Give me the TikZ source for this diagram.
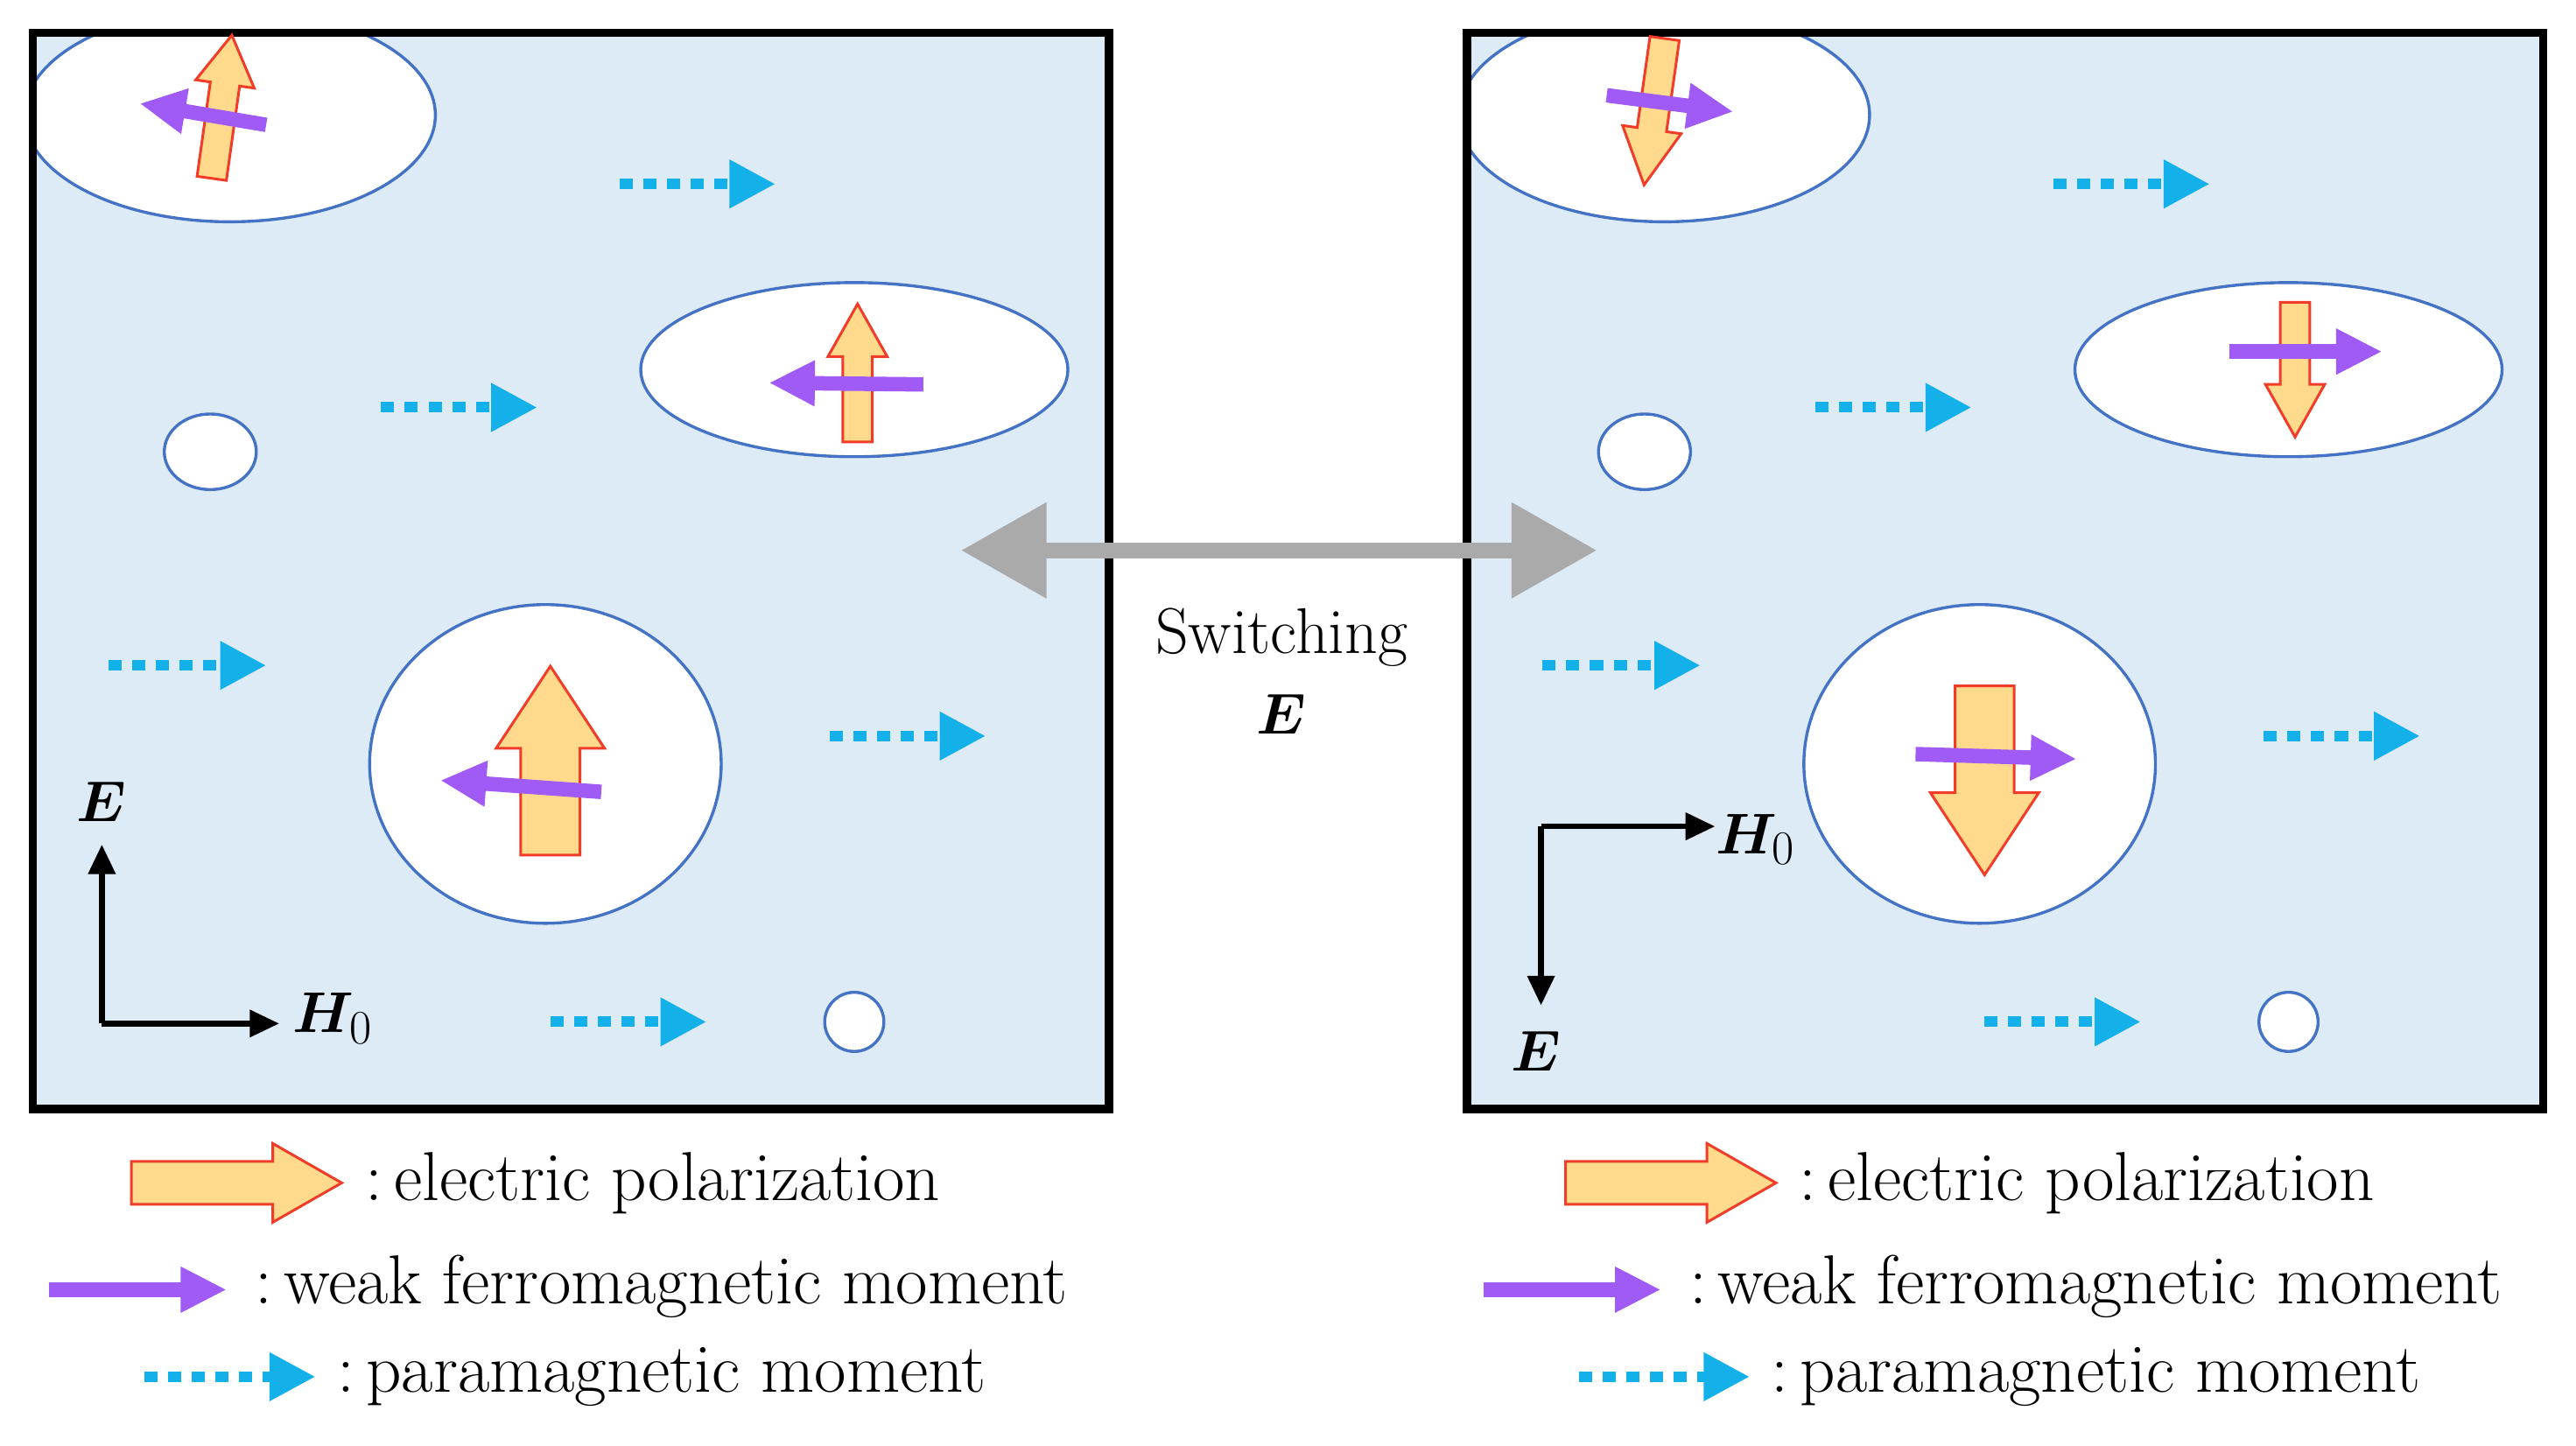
\documentclass[tikz,border=0pt]{standalone}
\usepackage{bm}
\usetikzlibrary{arrows.meta}
\definecolor{bgb}{RGB}{221,235,247}
\definecolor{elb}{RGB}{68,114,196}
\definecolor{polf}{RGB}{255,217,140}
\definecolor{pold}{RGB}{240,60,40}
\definecolor{purp}{RGB}{160,90,245}
\definecolor{cyanA}{RGB}{20,176,234}
\definecolor{grayA}{RGB}{170,170,170}
\tikzset{
 panel/.style={draw=black,line width=1.3mm,fill=bgb},
 dom/.style={draw=elb,line width=0.45mm,fill=white},
 pol/.style={draw=pold,line width=0.4mm,fill=polf,line join=miter},
 fm/.style={draw=purp,line width=2.2mm,-{Triangle[length=7mm,width=6.5mm]}},
 pm/.style={draw=cyanA,line width=1.6mm,dash pattern=on 2mm off 1.6mm,-{Triangle[length=7mm,width=7mm]}},
 ax/.style={draw=black,line width=0.9mm,-{Triangle[length=4.5mm,width=4mm]}},
 lab/.style={font=\fontsize{30}{34}\selectfont,anchor=west,inner sep=0},
 axl/.style={font=\fontsize{29}{32}\selectfont,inner sep=0},
}
\newcommand\fatarr[7]{\begin{scope}[shift={(#1,#2)},rotate=#3]
\draw[pol] (-#4/2,-#5/2) -- (#4/2-#7,-#5/2) -- (#4/2-#7,-#6/2) -- (#4/2,0) -- (#4/2-#7,#6/2) -- (#4/2-#7,#5/2) -- (-#4/2,#5/2) -- cycle;
\end{scope}}
\begin{document}
\begin{tikzpicture}[x=0.25mm,y=-0.25mm]
\useasboundingbox (0,0) rectangle (1568,880);
\foreach \dx/\nm in {0/L,873/R}{
\begin{scope}[xshift=\dx*0.25mm]
\path[fill=bgb] (20,20) rectangle (675,675);
\begin{scope}
\clip (20,20) rectangle (675,675);
\draw[dom] (140,70) ellipse [x radius=125,y radius=65];
\end{scope}
\draw[dom] (520,225) ellipse [x radius=130,y radius=53];
\draw[dom] (128,275) ellipse [x radius=28,y radius=23];
\draw[dom] (332,465) ellipse [x radius=107,y radius=97];
\draw[dom] (520,622) circle [radius=18];
\draw[line width=1.3mm] (20,20) rectangle (675,675);
\coordinate (\nm p1a) at (377,112); \coordinate (\nm p1b) at (472,112);
\coordinate (\nm p2a) at (232,248); \coordinate (\nm p2b) at (327,248);
\coordinate (\nm p3a) at (66,405); \coordinate (\nm p3b) at (162,405);
\coordinate (\nm p4a) at (505,448); \coordinate (\nm p4b) at (600,448);
\coordinate (\nm p5a) at (335,622); \coordinate (\nm p5b) at (430,622);
\foreach \i in {1,...,5}{\draw[pm] (\nm p\i a) -- (\nm p\i b);}
\end{scope}}
\fatarr{135}{65}{82}{88}{18}{36}{30}
\coordinate (a1) at (162,76); \coordinate (b1) at (85,63);
\draw[fm] (a1) -- (b1);
\fatarr{522}{227}{90}{84}{18}{36}{32}
\coordinate (a2) at (562,234); \coordinate (b2) at (468,233);
\draw[fm] (a2) -- (b2);
\fatarr{335}{463}{90}{115}{36}{66}{50}
\coordinate (a3) at (366,482); \coordinate (b3) at (268,475);
\draw[fm] (a3) -- (b3);
\fatarr{1007}{68}{-98}{90}{18}{36}{34}
\coordinate (a4) at (978,58); \coordinate (b4) at (1055,68);
\draw[fm] (a4) -- (b4);
\fatarr{1397}{225}{-90}{82}{18}{36}{32}
\coordinate (a5) at (1357,214); \coordinate (b5) at (1450,214);
\draw[fm] (a5) -- (b5);
\fatarr{1208}{475}{-90}{115}{36}{66}{50}
\coordinate (a6) at (1166,459); \coordinate (b6) at (1264,462);
\draw[fm] (a6) -- (b6);
\coordinate (o1) at (62,623); \coordinate (e1) at (62,514); \coordinate (h1) at (170,623);
\draw[ax] (o1) -- (e1); \draw[ax] (o1) -- (h1);
\node[axl] (E1) at (62,488) {$\bm{E}$};
\node[axl,anchor=west] (H1) at (178,620) {$\bm{H}_0$};
\coordinate (o2) at (938,503); \coordinate (h2) at (1044,503); \coordinate (e2) at (938,612);
\draw[ax] (o2) -- (h2); \draw[ax] (o2) -- (e2);
\node[axl,anchor=west] (H2) at (1044,511) {$\bm{H}_0$};
\node[axl] (E2) at (935,640) {$\bm{E}$};
\coordinate (s1) at (585,335); \coordinate (s2) at (972,335);
\draw[draw=grayA,line width=2.4mm,{Triangle[length=13mm,width=14mm]}-{Triangle[length=13mm,width=14mm]}] (s1) -- (s2);
\node[font=\fontsize{28}{32}\selectfont,inner sep=0] (sw) at (780,388) {Switching};
\node[axl] (swE) at (780,435) {$\bm{E}$};
\foreach \dx/\nm in {0/L,873/R}{
\begin{scope}[xshift=\dx*0.25mm]
\fatarr{144}{720}{0}{128}{26}{48}{42}
\node[lab] (\nm l1) at (222,720) {:\,electric polarization};
\coordinate (\nm fa) at (30,785); \coordinate (\nm fb) at (138,785);
\draw[fm] (\nm fa) -- (\nm fb);
\node[lab] (\nm l2) at (155,783) {:\,weak ferromagnetic moment};
\coordinate (\nm da) at (88,838); \coordinate (\nm db) at (192,838);
\draw[pm] (\nm da) -- (\nm db);
\node[lab] (\nm l3) at (205,838) {:\,paramagnetic moment};
\end{scope}}
\end{tikzpicture}
\end{document}
